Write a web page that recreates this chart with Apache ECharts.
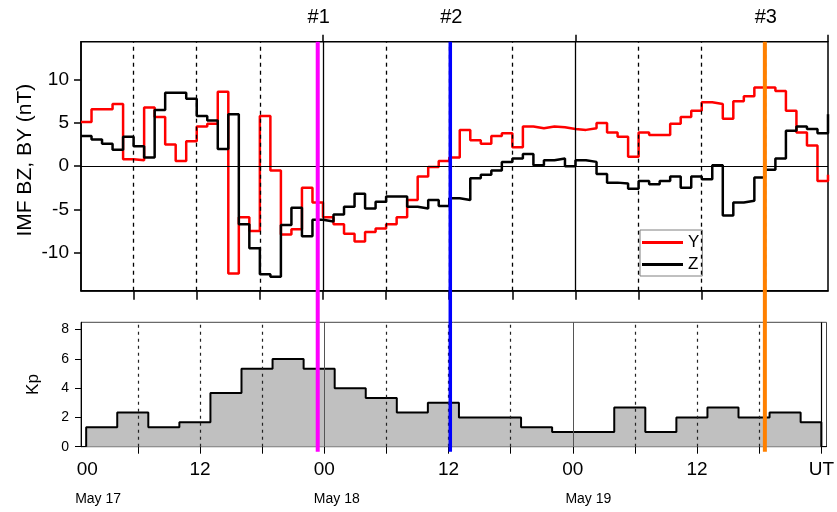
<!DOCTYPE html>
<html><head><meta charset="utf-8">
<script src="https://cdn.jsdelivr.net/npm/echarts@6/dist/echarts.min.js"></script>
<style>html,body{margin:0;padding:0;background:#fff}#c{width:837px;height:512px}</style>
</head><body><div id="c"></div>
<script>
const FONT = '"Liberation Sans", Arial, Helvetica, sans-serif';

// ---- data (hours counted from 00 UT May 17) ----
const imfHourStart = 1;            // first hourly value
const imfY = [5.1, 6.6, 6.6, 7.2, 0.8, 0.7, 6.8, 5.7, 2.5, 0.6, 2.9, 4.6, 4.9, 8.6, -12.4, -5.9, -7.5, 5.8, -0.5, -7.9,
  -7.3, -2.5, -4.2, -5.9, -6.7, -7.8, -8.7, -7.6, -7.2, -6.7, -5.9, -3.9, -1.2, -0.1, 0.6, 1.0, 4.2, 3.0, 2.6, 3.5,
  3.8, 2.2, 4.6, 4.4, 4.6, 4.5, 4.3, 4.2, 4.4, 5.0, 3.9, 3.4, 1.1, 3.9, 3.6, 3.6, 4.9, 5.7, 6.4, 7.4,
  7.2, 5.5, 7.5, 8.1, 9.1, 9.1, 8.7, 6.4, 3.9, 2.4, -1.7, -1.0];
const imfZ = [3.5, 3.1, 2.6, 1.9, 3.4, 2.3, 1.0, 6.5, 8.5, 8.5, 7.8, 5.8, 5.3, 2.0, 6.0, -6.7, -9.5, -12.5, -12.8, -6.8,
  -4.8, -8.1, -6.2, -6.4, -5.6, -4.7, -3.2, -4.9, -4.1, -3.5, -3.5, -4.7, -4.9, -3.9, -4.6, -3.7, -3.9, -1.4, -1.0, -0.5,
  0.5, 0.9, 1.4, 0.1, 0.7, 0.9, 0.0, 0.7, 0.5, -0.9, -1.9, -2.0, -2.6, -1.7, -2.1, -1.7, -1.2, -2.5, -1.2, -1.5,
  0.1, -5.7, -4.2, -4.0, -1.3, -0.4, 0.9, 4.1, 4.6, 4.3, 3.8, 6.0];
const kpHourStart = 1;
const kpStepHours = 3;
const kpEndHour = 72;
const kpValues = [1.33, 2.33, 1.33, 1.67, 3.67, 5.33, 6.0, 5.33, 4.0, 3.33, 2.33, 3.0,
  2.0, 2.0, 1.33, 1.0, 1.0, 2.67, 1.0, 2.0, 2.67, 2.0, 2.33, 1.67];
const imfTicks = [-10, -5, 0, 5, 10];
const kpTicks = [0, 2, 4, 6, 8];
const timeTickHours = [0, 12, 24, 36, 48, 60, 72];
const timeTickLabels = ['00', '12', '00', '12', '00', '12', 'UT'];
const dateLabels = ['May 17', 'May 18', 'May 19'];
const eventHours = [23.5, 36.1, 66.0];
const eventLabels = ['#1', '#2', '#3'];
const seriesNames = ['Y', 'Z'];
const imfAxisName = 'IMF BZ, BY (nT)';
const kpAxisName = 'Kp';

// ---- build ----
const chart = echarts.init(document.getElementById('c'), null, {renderer: 'canvas'});
const six = [];
for (let h = 6; h < 72; h += 6) six.push(h);
const gridLinesTop = six.map(h => ({
  xAxis: h,
  lineStyle: (h % 24 === 0) ? {type: 'solid', color: '#000', width: 1.3} : {type: [4, 4], color: '#000', width: 1.3}
}));
gridLinesTop.push({yAxis: 0, lineStyle: {type: 'solid', color: '#000', width: 1}});
const gridLinesBot = six.map(h => ({
  xAxis: h,
  lineStyle: (h % 24 === 0) ? {type: 'solid', color: '#555', width: 1} : {type: [3, 4], color: '#222', width: 1.2}
}));
gridLinesBot.push({xAxis: 72, lineStyle: {type: 'solid', color: '#000', width: 1.2}});

const yData = imfY.map((v, i) => [imfHourStart + i, v]);
const zData = imfZ.map((v, i) => [imfHourStart + i, v]);
const kpData = [[kpHourStart, 0]];
kpValues.forEach((v, i) => kpData.push([kpHourStart + i * kpStepHours, v]));
kpData.push([kpEndHour, kpValues[kpValues.length - 1]]);
kpData.push([kpEndHour, 0]);

const labelHours = timeTickHours.map(h => Math.max(h, 1.1));

const markBase = {symbol: 'none', silent: true, animation: false, label: {show: false}, emphasis: {disabled: true}};

const option = {
  animation: false,
  grid: [
    {left: 81, right: 9, top: 41.7, bottom: 221.3, show: true, borderColor: '#000', borderWidth: 1.5, backgroundColor: 'transparent'},
    {left: 81, right: 9, top: 322.3, bottom: 65.3, show: true, borderColor: '#444', borderWidth: 1, backgroundColor: 'transparent'}
  ],
  xAxis: [
    {gridIndex: 0, type: 'value', min: 1, max: 72, position: 'bottom',
      axisLine: {show: true, onZero: false, lineStyle: {color: '#000', width: 1.5}},
      axisTick: {show: true, inside: false, customValues: six, length: 9, lineStyle: {color: '#000', width: 1.5}},
      axisLabel: {show: false}, splitLine: {show: false}},
    {gridIndex: 0, type: 'value', min: 1, max: 72, position: 'top',
      axisLine: {show: false, onZero: false},
      axisTick: {show: true, inside: false, customValues: [24, 48, 72], length: 7, lineStyle: {color: '#000', width: 1.5}},
      axisLabel: {show: false}, splitLine: {show: false}},
    {gridIndex: 1, type: 'value', min: 0.5, max: 72.5, position: 'bottom',
      axisLine: {show: true, onZero: false, lineStyle: {color: '#000', width: 1}},
      axisTick: {show: true, inside: false, customValues: six.concat([72]), length: 7, lineStyle: {color: '#000', width: 1}},
      axisLabel: {show: true, customValues: labelHours, margin: 14, fontSize: 19, fontFamily: FONT, color: '#000', hideOverlap: false,
        formatter: v => timeTickLabels[labelHours.indexOf(v)]},
      splitLine: {show: false}}
  ],
  yAxis: [
    {gridIndex: 0, type: 'value', min: -14.4, max: 14.4,
      axisLine: {show: true, onZero: false, lineStyle: {color: '#000', width: 1.5}},
      axisTick: {show: true, inside: false, customValues: imfTicks, length: 7, lineStyle: {color: '#000', width: 1.5}},
      axisLabel: {show: true, customValues: imfTicks, margin: 12, fontSize: 19, fontFamily: FONT, color: '#000'},
      splitLine: {show: false}},
    {gridIndex: 1, type: 'value', min: 0, max: 8.5,
      axisLine: {show: true, onZero: false, lineStyle: {color: '#000', width: 1}},
      axisTick: {show: true, inside: false, customValues: kpTicks, length: 6, lineStyle: {color: '#000', width: 1}},
      axisLabel: {show: true, customValues: kpTicks, margin: 12, fontSize: 14, fontFamily: FONT, color: '#000'},
      splitLine: {show: false}}
  ],
  legend: {
    data: seriesNames.map(n => ({name: n, icon: 'rect'})),
    left: 640, top: 230, orient: 'vertical', selectedMode: false,
    itemWidth: 41, itemHeight: 3, itemGap: 5, padding: [4, 3, 3, 2],
    borderColor: '#808080', borderWidth: 1, backgroundColor: '#fff', borderRadius: 0,
    textStyle: {fontSize: 17, fontFamily: FONT, color: '#000'}
  },
  series: [
    {type: 'line', xAxisIndex: 0, yAxisIndex: 0, data: [], z: 1, silent: true,
      markLine: Object.assign({}, markBase, {data: gridLinesTop})},
    {type: 'line', xAxisIndex: 2, yAxisIndex: 1, data: [], z: 1, silent: true,
      markLine: Object.assign({}, markBase, {data: gridLinesBot})},
    {name: seriesNames[0], type: 'line', step: 'end', xAxisIndex: 0, yAxisIndex: 0, data: yData,
      symbol: 'none', showSymbol: false, z: 3,
      lineStyle: {color: '#ff0000', width: 2.5}, itemStyle: {color: '#ff0000'}},
    {name: seriesNames[1], type: 'line', step: 'end', xAxisIndex: 0, yAxisIndex: 0, data: zData,
      symbol: 'none', showSymbol: false, z: 4,
      lineStyle: {color: '#000', width: 2.5}, itemStyle: {color: '#000'}},
    {name: kpAxisName, type: 'line', step: 'end', xAxisIndex: 2, yAxisIndex: 1, data: kpData,
      symbol: 'none', showSymbol: false, z: 2,
      lineStyle: {color: '#000', width: 2}, itemStyle: {color: '#000'},
      areaStyle: {color: '#c0c0c0', opacity: 1}}
  ]
};
chart.setOption(option);

// overlays positioned through the chart's own scales
const eventColors = ['#ff00ff', '#0000ff', '#ff8000'];
const eventWidths = [4, 3.5, 4];
const yTopPx = chart.convertToPixel({yAxisIndex: 0}, 14.4);
const yBotPx = chart.convertToPixel({yAxisIndex: 1}, 0) + 5;
const g = [];
eventHours.forEach((h, i) => {
  const x = chart.convertToPixel({xAxisIndex: 0}, h);
  g.push({type: 'line', z: 50, silent: true,
    shape: {x1: x, y1: yTopPx, x2: x, y2: yBotPx},
    style: {stroke: eventColors[i], lineWidth: eventWidths[i]}});
  g.push({type: 'text', z: 50, silent: true, x: x + 1, y: 17,
    style: {text: eventLabels[i], fontSize: 20, fontFamily: FONT, fill: '#000', align: 'center', verticalAlign: 'middle'}});
});
const dateAnchor = [2.15, 25.2, 49.5];
dateLabels.forEach((t, i) => {
  const x = chart.convertToPixel({xAxisIndex: 2}, dateAnchor[i]);
  g.push({type: 'text', z: 50, silent: true, x: x, y: 499,
    style: {text: t, fontSize: 14, fontFamily: FONT, fill: '#000', align: 'center', verticalAlign: 'middle'}});
});
const midTop = (chart.convertToPixel({yAxisIndex: 0}, 14.4) + chart.convertToPixel({yAxisIndex: 0}, -14.4)) / 2;
const midBot = (chart.convertToPixel({yAxisIndex: 1}, 0) + chart.convertToPixel({yAxisIndex: 1}, 8.5)) / 2;
g.push({type: 'text', z: 50, silent: true, x: 25, y: midTop - 6, rotation: Math.PI / 2,
  style: {text: imfAxisName, fontSize: 21, fontFamily: FONT, fill: '#000', align: 'center', verticalAlign: 'middle'}});
g.push({type: 'text', z: 50, silent: true, x: 33, y: midBot, rotation: Math.PI / 2,
  style: {text: kpAxisName, fontSize: 17, fontFamily: FONT, fill: '#000', align: 'center', verticalAlign: 'middle'}});
chart.setOption({graphic: g});
</script>
</body></html>
